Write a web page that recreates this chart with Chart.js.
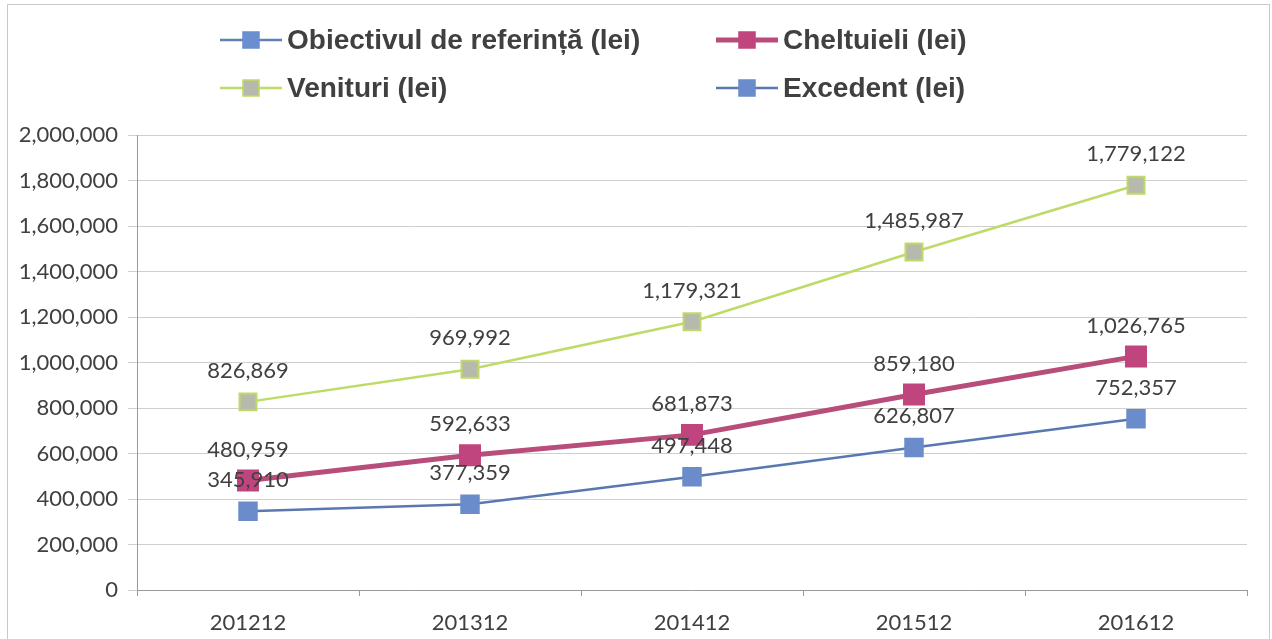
<!DOCTYPE html>
<html>
<head>
<meta charset="utf-8">
<script src="https://cdn.jsdelivr.net/npm/chart.js@4"></script>
<style>
  html, body { margin: 0; padding: 0; background: #fff; }
  #wrap { width: 1272px; height: 639px; }
</style>
</head>
<body>
<div id="wrap"><canvas id="chart" width="1272" height="639"></canvas></div>
<script>
// Data
const years = ["201212", "201312", "201412", "201512", "201612"];
const objectiv = [null, null, null, null, null];
const cheltuieli = [480959, 592633, 681873, 859180, 1026765];
const venituri = [826869, 969992, 1179321, 1485987, 1779122];
const excedent = [345910, 377359, 497448, 626807, 752357];
const yTicks = [0, 200000, 400000, 600000, 800000, 1000000, 1200000, 1400000, 1600000, 1800000, 2000000];

const txt = "#404040";
const tickFont = { family: "Lato", size: 22 };

// value labels above each point
const valueLabels = {
    id: "valueLabels",
    afterDatasetsDraw(chart) {
        const ctx = chart.ctx;
        ctx.save();
        ctx.font = "22px Lato";
        ctx.fillStyle = txt;
        ctx.textAlign = "center";
        ctx.textBaseline = "middle";
        chart.data.datasets.forEach((ds, i) => {
            if (!ds.showLabels) return;
            chart.getDatasetMeta(i).data.forEach((pt, j) => {
                const v = ds.data[j];
                if (v == null) return;
                ctx.fillText(v.toLocaleString("en-US"), pt.x, pt.y - 31);
            });
        });
        ctx.restore();
    }
};

// legend in two columns, like the original
const twoColLegend = {
    id: "twoColLegend",
    afterDraw(chart) {
        const ctx = chart.ctx;
        const cols = [220, 716];
        const rows = [40, 88];
        ctx.save();
        ctx.font = "bold 28px 'Liberation Sans'";
        ctx.textBaseline = "middle";
        ctx.textAlign = "left";
        chart.data.datasets.forEach((ds, i) => {
            const x = cols[ds.legendCol];
            const y = rows[ds.legendRow];
            ctx.strokeStyle = ds.borderColor;
            ctx.lineWidth = ds.legendLine;
            ctx.beginPath();
            ctx.moveTo(x, y);
            ctx.lineTo(x + 62, y);
            ctx.stroke();
            ctx.fillStyle = ds.pointBackgroundColor;
            ctx.strokeStyle = ds.pointBorderColor;
            ctx.lineWidth = 1.5;
            ctx.fillRect(x + 23, y - 8, 16, 16);
            ctx.strokeRect(x + 23, y - 8, 16, 16);
            ctx.fillStyle = txt;
            ctx.fillText(ds.label, x + 67, y + 1);
        });
        ctx.restore();
    }
};

// thin frame around the picture
const frame = {
    id: "frame",
    beforeDraw(chart) {
        const ctx = chart.ctx;
        ctx.save();
        ctx.strokeStyle = "#c8c8c8";
        ctx.lineWidth = 1;
        ctx.strokeRect(7.5, 4.5, 1262, 640);
        ctx.restore();
    }
};

const config = {
    type: "line",
    data: {
        labels: years,
        datasets: [
            {
                label: "Obiectivul de referință (lei)",
                data: objectiv,
                borderColor: "#5f7fb5",
                pointBackgroundColor: "#6a8fd0",
                pointBorderColor: "#6a8fd0",
                borderWidth: 2.5,
                legendLine: 2.5, legendCol: 0, legendRow: 0,
                showLabels: false
            },
            {
                label: "Venituri (lei)",
                data: venituri,
                borderColor: "#bddb66",
                backgroundColor: "#bddb66",
                pointBackgroundColor: "#b8b9ad",
                pointBorderColor: "#bddb66",
                pointBorderWidth: 2,
                borderWidth: 2.5,
                legendLine: 2.5, legendCol: 0, legendRow: 1,
                showLabels: true
            },
            {
                label: "Cheltuieli (lei)",
                data: cheltuieli,
                borderColor: "#b84d7c",
                backgroundColor: "#b84d7c",
                pointBackgroundColor: "#c0457e",
                pointBorderColor: "#c0457e",
                borderWidth: 5,
                legendLine: 5, legendCol: 1, legendRow: 0,
                showLabels: true
            },
            {
                label: "Excedent (lei)",
                data: excedent,
                borderColor: "#5a78b0",
                backgroundColor: "#5a78b0",
                pointBackgroundColor: "#6a8ccb",
                pointBorderColor: "#6a8ccb",
                borderWidth: 2.5,
                legendLine: 2.5, legendCol: 1, legendRow: 1,
                showLabels: true
            }
        ]
    },
    options: {
        responsive: false,
        animation: false,
        layout: { padding: { top: 135, right: 25, bottom: 3, left: 0 } },
        elements: {
            line: { tension: 0 },
            point: { pointStyle: "rect", radius: 12, hoverRadius: 12 }
        },
        plugins: {
            legend: { display: false },
            tooltip: { enabled: false }
        },
        scales: {
            x: {
                offset: true,
                grid: { offset: true, drawOnChartArea: false, drawTicks: true, tickLength: 6, color: "#9a9a9a" },
                border: { color: "#9a9a9a" },
                ticks: { color: txt, font: tickFont, padding: 14, maxRotation: 0 },
                afterFit(s) { s.height = 46; }
            },
            y: {
                min: 0,
                max: 2000000,
                afterBuildTicks(s) { s.ticks = yTicks.map(v => ({ value: v })); },
                grid: { color: "#cfcfcf", tickLength: 9 },
                border: { color: "#9a9a9a" },
                ticks: {
                    color: txt,
                    font: tickFont,
                    padding: 10,
                    callback: v => v.toLocaleString("en-US")
                },
                afterFit(s) { s.width = 137; }
            }
        }
    },
    plugins: [frame, valueLabels, twoColLegend]
};

new Chart(document.getElementById("chart"), config);
</script>
</body>
</html>
